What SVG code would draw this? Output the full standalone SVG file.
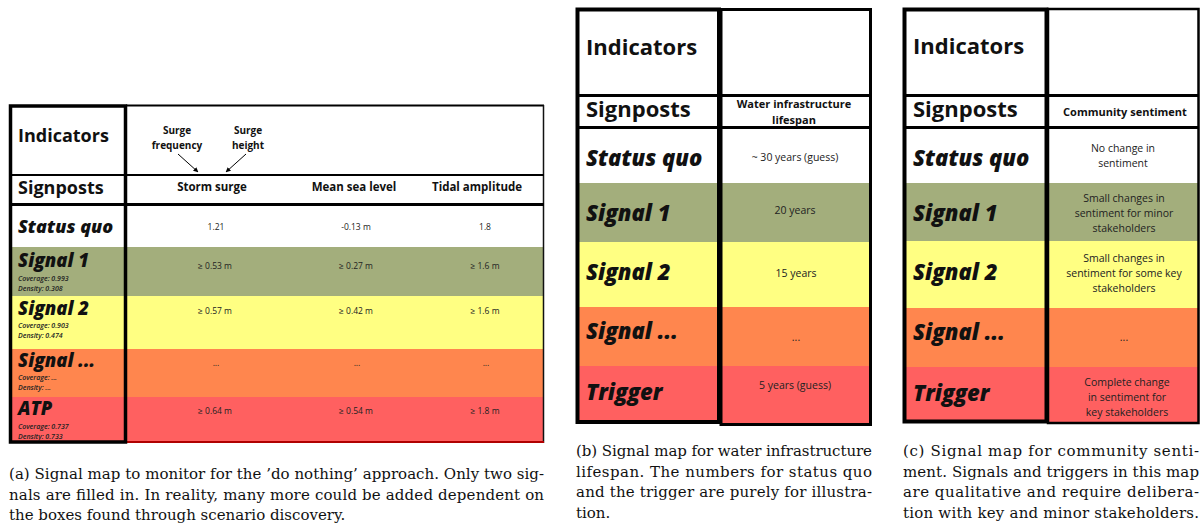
<svg xmlns="http://www.w3.org/2000/svg" width="1203" height="524" viewBox="0 0 1203 524">
  <style>
    .lab { font-family: "Open Sans", "DejaVu Sans", sans-serif; font-weight: 700; fill: #111; }
    .labi { font-family: "Open Sans", "DejaVu Sans", sans-serif; font-weight: 800; font-style: italic; fill: #111; }
    .hdr { font-family: "Open Sans", "DejaVu Sans", sans-serif; font-weight: 700; fill: #111; text-anchor: middle; }
    .val { font-family: "Open Sans", "DejaVu Sans", sans-serif; fill: #222; text-anchor: middle; }
    .meta { font-family: "Open Sans", "DejaVu Sans", sans-serif; font-style: italic; font-weight: 600; font-size: 7px; fill: #222; }
    .cap { font-family: "DejaVu Serif", "Liberation Serif", serif; font-size: 15px; fill: #111; }
    .g { fill: #a3ae7c; }
    .y { fill: #ffff82; }
    .o { fill: #ff864e; }
    .r { fill: #ff6060; }
    .bd { fill: none; stroke: #000; }
  </style>
  <defs>
    <marker id="arrow" viewBox="0 0 10 10" refX="9" refY="5" markerWidth="5" markerHeight="5" orient="auto">
      <path d="M0,0 L10,5 L0,10 z" fill="#000"/>
    </marker>
  </defs>

  <rect width="1203" height="524" fill="#fff"/>

  <!-- Panel (a): do-nothing signal map -->
  <g id="panel-a">
    <g id="a-fills">
      <rect class="g" x="9" y="247" width="535" height="49"/>
      <rect class="y" x="9" y="296" width="535" height="53"/>
      <rect class="o" x="9" y="349" width="535" height="48"/>
      <rect class="r" x="9" y="397" width="535" height="46"/>
    </g>
    <g id="a-borders">
      <line x1="126" y1="105.5" x2="544" y2="105.5" stroke="#000" stroke-width="2"/>
      <line x1="543.5" y1="105" x2="543.5" y2="443" stroke="#111" stroke-width="1.5"/>
      <line x1="9" y1="175" x2="544" y2="175" stroke="#000" stroke-width="2"/>
      <line x1="9" y1="204.5" x2="544" y2="204.5" stroke="#000" stroke-width="3"/>
      <line x1="126" y1="442" x2="544" y2="442" stroke="#b00000" stroke-width="2"/>
      <rect class="bd" x="10.5" y="106" width="115" height="336" stroke-width="3.5"/>
    </g>
    <g id="a-indicators">
      <text class="lab" x="18" y="142" font-size="18">Indicators</text>
      <text class="hdr" x="177" y="134" font-size="10">Surge</text>
      <text class="hdr" x="177" y="149" font-size="10">frequency</text>
      <text class="hdr" x="248" y="134" font-size="10">Surge</text>
      <text class="hdr" x="248" y="149" font-size="10">height</text>
    </g>
    <g id="a-signposts">
      <text class="lab" x="18" y="194" font-size="18">Signposts</text>
      <text class="hdr" x="212" y="191" font-size="11.5">Storm surge</text>
      <text class="hdr" x="354" y="191" font-size="11.5">Mean sea level</text>
      <text class="hdr" x="477" y="191" font-size="11.5">Tidal amplitude</text>
    </g>
    <g id="a-status-quo">
      <text class="labi" x="18" y="233" font-size="18">Status quo</text>
      <text class="val" x="216" y="230" font-size="8.5">1.21</text>
      <text class="val" x="356" y="230" font-size="8.5">-0.13 m</text>
      <text class="val" x="485" y="230" font-size="8.5">1.8</text>
    </g>
    <g id="a-signal-1">
      <text class="labi" x="18" y="267" font-size="18.5">Signal 1</text>
      <text class="meta" x="18" y="281">Coverage: 0.993</text>
      <text class="meta" x="18" y="291">Density: 0.308</text>
      <text class="val" x="215" y="269" font-size="8.5">≥ 0.53 m</text>
      <text class="val" x="356" y="269" font-size="8.5">≥ 0.27 m</text>
      <text class="val" x="485" y="269" font-size="8.5">≥ 1.6 m</text>
    </g>
    <g id="a-signal-2">
      <text class="labi" x="18" y="315" font-size="18.5">Signal 2</text>
      <text class="meta" x="18" y="328">Coverage: 0.903</text>
      <text class="meta" x="18" y="338">Density: 0.474</text>
      <text class="val" x="215" y="314" font-size="8.5">≥ 0.57 m</text>
      <text class="val" x="356" y="314" font-size="8.5">≥ 0.42 m</text>
      <text class="val" x="485" y="314" font-size="8.5">≥ 1.6 m</text>
    </g>
    <g id="a-signal-more">
      <text class="labi" x="18" y="367" font-size="18.5">Signal ...</text>
      <text class="meta" x="18" y="380">Coverage: ...</text>
      <text class="meta" x="18" y="390">Density: ...</text>
      <text class="val" x="216" y="366" font-size="8.5">...</text>
      <text class="val" x="357" y="366" font-size="8.5">...</text>
      <text class="val" x="486" y="366" font-size="8.5">...</text>
    </g>
    <g id="a-atp">
      <text class="labi" x="18" y="415" font-size="18.5">ATP</text>
      <text class="meta" x="18" y="429">Coverage: 0.737</text>
      <text class="meta" x="18" y="439">Density: 0.733</text>
      <text class="val" x="215" y="414" font-size="8.5">≥ 0.64 m</text>
      <text class="val" x="356" y="414" font-size="8.5">≥ 0.54 m</text>
      <text class="val" x="485" y="414" font-size="8.5">≥ 1.8 m</text>
    </g>
  </g>

  <!-- Arrows from the surge components down to the storm surge signpost -->
  <g id="connectors" stroke="#000" stroke-width="1" fill="none">
    <line x1="178" y1="154" x2="198" y2="172" marker-end="url(#arrow)"/>
    <line x1="246" y1="154" x2="226" y2="172" marker-end="url(#arrow)"/>
  </g>

  <!-- Panel (b): water infrastructure lifespan -->
  <g id="panel-b">
    <g id="b-fills">
      <rect class="g" x="576" y="183" width="296" height="59"/>
      <rect class="y" x="576" y="242" width="296" height="65"/>
      <rect class="o" x="576" y="307" width="296" height="59"/>
      <rect class="r" x="576" y="366" width="296" height="58"/>
    </g>
    <g id="b-borders">
      <line x1="576" y1="95.5" x2="872" y2="95.5" stroke="#000" stroke-width="3"/>
      <line x1="576" y1="127.5" x2="872" y2="127.5" stroke="#000" stroke-width="3"/>
      <rect class="bd" x="577.5" y="9.5" width="141.5" height="412.5" stroke-width="4"/>
      <rect class="bd" x="721" y="9.5" width="149.5" height="415" stroke-width="3"/>
    </g>
    <g id="b-indicators"><text class="lab" x="586" y="55" font-size="22">Indicators</text></g>
    <g id="b-signposts">
      <text class="lab" x="586" y="117" font-size="22">Signposts</text>
      <text class="hdr" x="794" y="108" font-size="11">Water infrastructure</text>
      <text class="hdr" x="794" y="124" font-size="11">lifespan</text>
    </g>
    <g id="b-status-quo">
      <text class="labi" x="586" y="166" font-size="22">Status quo</text>
      <text class="val" x="795" y="161" font-size="10.5">~ 30 years (guess)</text>
    </g>
    <g id="b-signal-1">
      <text class="labi" x="586" y="221" font-size="22">Signal 1</text>
      <text class="val" x="795" y="214" font-size="10.5">20 years</text>
    </g>
    <g id="b-signal-2">
      <text class="labi" x="586" y="280" font-size="22">Signal 2</text>
      <text class="val" x="796" y="277" font-size="10.5">15 years</text>
    </g>
    <g id="b-signal-more">
      <text class="labi" x="586" y="339" font-size="22">Signal ...</text>
      <text class="val" x="796" y="341" font-size="10.5">...</text>
    </g>
    <g id="b-trigger">
      <text class="labi" x="586" y="400" font-size="22">Trigger</text>
      <text class="val" x="795" y="389" font-size="10.5">5 years (guess)</text>
    </g>
  </g>

  <!-- Panel (c): community sentiment -->
  <g id="panel-c">
    <g id="c-fills">
      <rect class="g" x="903" y="183" width="296" height="58"/>
      <rect class="y" x="903" y="241" width="296" height="67"/>
      <rect class="o" x="903" y="308" width="296" height="59"/>
      <rect class="r" x="903" y="367" width="296" height="56"/>
    </g>
    <g id="c-borders">
      <line x1="903" y1="95.5" x2="1199" y2="95.5" stroke="#000" stroke-width="3"/>
      <line x1="903" y1="127.5" x2="1199" y2="127.5" stroke="#000" stroke-width="3"/>
      <rect class="bd" x="904.5" y="9.5" width="142" height="412" stroke-width="4"/>
      <rect class="bd" x="1048" y="9" width="150.5" height="414" stroke-width="2.5"/>
    </g>
    <g id="c-indicators"><text class="lab" x="913" y="54" font-size="22">Indicators</text></g>
    <g id="c-signposts">
      <text class="lab" x="913" y="117" font-size="22">Signposts</text>
      <text class="hdr" x="1125" y="116" font-size="11">Community sentiment</text>
    </g>
    <g id="c-status-quo">
      <text class="labi" x="913" y="166" font-size="22">Status quo</text>
      <text class="val" x="1123" y="152" font-size="10.5">No change in</text>
      <text class="val" x="1123" y="167" font-size="10.5">sentiment</text>
    </g>
    <g id="c-signal-1">
      <text class="labi" x="913" y="221" font-size="22">Signal 1</text>
      <text class="val" x="1124" y="202" font-size="10.5">Small changes in</text>
      <text class="val" x="1124" y="217" font-size="10.5">sentiment for minor</text>
      <text class="val" x="1124" y="232" font-size="10.5">stakeholders</text>
    </g>
    <g id="c-signal-2">
      <text class="labi" x="913" y="280" font-size="22">Signal 2</text>
      <text class="val" x="1124" y="262" font-size="10.5">Small changes in</text>
      <text class="val" x="1124" y="277" font-size="10.5">sentiment for some key</text>
      <text class="val" x="1124" y="292" font-size="10.5">stakeholders</text>
    </g>
    <g id="c-signal-more">
      <text class="labi" x="913" y="340" font-size="22">Signal ...</text>
      <text class="val" x="1124" y="341" font-size="10.5">...</text>
    </g>
    <g id="c-trigger">
      <text class="labi" x="913" y="401" font-size="22">Trigger</text>
      <text class="val" x="1127" y="386" font-size="10.5">Complete change</text>
      <text class="val" x="1127" y="401" font-size="10.5">in sentiment for</text>
      <text class="val" x="1127" y="416" font-size="10.5">key stakeholders</text>
    </g>
  </g>

  <!-- Sub-figure captions -->
  <g id="captions">
    <text class="cap" x="9" y="479" textLength="535" lengthAdjust="spacing">(a) Signal map to monitor for the ’do nothing’ approach. Only two sig-</text>
    <text class="cap" x="9" y="499.5" textLength="535" lengthAdjust="spacing">nals are filled in.  In reality, many more could be added dependent on</text>
    <text class="cap" x="9" y="520">the boxes found through scenario discovery.</text>

    <text class="cap" x="576" y="456" textLength="296" lengthAdjust="spacing">(b) Signal map for water infrastructure</text>
    <text class="cap" x="576" y="476.5" textLength="296" lengthAdjust="spacing">lifespan.  The numbers for status quo</text>
    <text class="cap" x="576" y="497" textLength="296" lengthAdjust="spacing">and the trigger are purely for illustra-</text>
    <text class="cap" x="576" y="518">tion.</text>

    <text class="cap" x="903" y="456" textLength="296" lengthAdjust="spacing">(c) Signal map for community senti-</text>
    <text class="cap" x="903" y="476.5" textLength="296" lengthAdjust="spacing">ment. Signals and triggers in this map</text>
    <text class="cap" x="903" y="497" textLength="296" lengthAdjust="spacing">are qualitative and require delibera-</text>
    <text class="cap" x="903" y="518" textLength="296" lengthAdjust="spacing">tion with key and minor stakeholders.</text>
  </g>
</svg>
